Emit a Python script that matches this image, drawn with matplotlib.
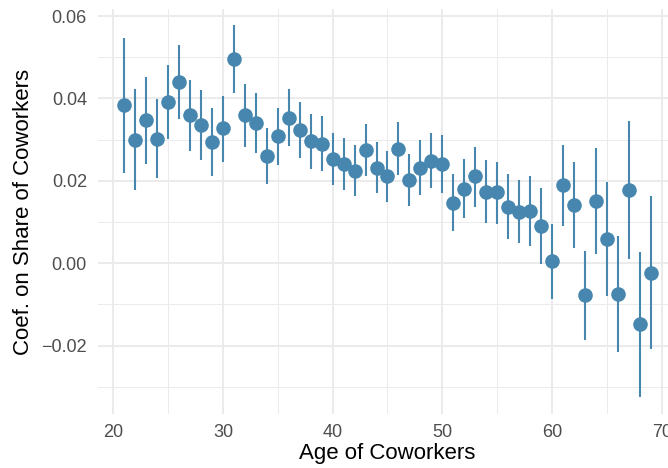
import numpy as np
import matplotlib
matplotlib.use("Agg")
import matplotlib.pyplot as plt
from matplotlib.ticker import MultipleLocator

plt.rcParams['font.family'] = ['Liberation Sans', 'DejaVu Sans']

# Coeficientes por edad de los compañeros
age = np.arange(21, 70)
coef = [0.0383, 0.0300, 0.0347, 0.0302, 0.0391, 0.0440, 0.0359, 0.0336, 0.0293, 0.0328,
        0.0495, 0.0360, 0.0341, 0.0259, 0.0308, 0.0353, 0.0324, 0.0296, 0.0290, 0.0253,
        0.0241, 0.0225, 0.0274, 0.0231, 0.0211, 0.0278, 0.0202, 0.0231, 0.0249, 0.0241,
        0.0147, 0.0180, 0.0211, 0.0174, 0.0172, 0.0137, 0.0125, 0.0127, 0.0091, 0.0005,
        0.0189, 0.0142, -0.0076, 0.0151, 0.0059, -0.0074, 0.0178, -0.0147, -0.0023]
upper = [0.0546, 0.0424, 0.0453, 0.0398, 0.0480, 0.0529, 0.0444, 0.0420, 0.0377, 0.0407,
         0.0578, 0.0436, 0.0412, 0.0329, 0.0376, 0.0424, 0.0391, 0.0363, 0.0357, 0.0316,
         0.0304, 0.0288, 0.0338, 0.0293, 0.0273, 0.0342, 0.0266, 0.0298, 0.0316, 0.0310,
         0.0217, 0.0253, 0.0282, 0.0250, 0.0246, 0.0216, 0.0201, 0.0211, 0.0182, 0.0095,
         0.0286, 0.0245, 0.0030, 0.0280, 0.0196, 0.0066, 0.0345, 0.0028, 0.0162]
lower = [0.0219, 0.0178, 0.0241, 0.0207, 0.0302, 0.0350, 0.0272, 0.0251, 0.0211, 0.0246,
         0.0412, 0.0282, 0.0268, 0.0193, 0.0238, 0.0284, 0.0255, 0.0228, 0.0224, 0.0190,
         0.0178, 0.0163, 0.0212, 0.0170, 0.0148, 0.0215, 0.0139, 0.0166, 0.0182, 0.0171,
         0.0079, 0.0109, 0.0136, 0.0098, 0.0094, 0.0059, 0.0048, 0.0041, -0.0001, -0.0086,
         0.0090, 0.0038, -0.0186, 0.0022, -0.0079, -0.0216, 0.0010, -0.0324, -0.0208]

color = '#4787AF'

fig = plt.figure(figsize=(6.68, 4.68), dpi=100)
ax = fig.add_axes([98 / 668, 1 - 414 / 468, (677 - 98) / 668, (414 - 9) / 468])

ax.vlines(age, lower, upper, color=color, linewidth=1.5)
ax.plot(age, coef, 'o', color=color, markersize=10.5, markeredgewidth=0)

ax.set_xlim(18.6, 71.4)
ax.set_ylim(-0.0366, 0.0617)
ax.xaxis.set_major_locator(MultipleLocator(10))
ax.xaxis.set_minor_locator(MultipleLocator(5))
ax.yaxis.set_major_locator(MultipleLocator(0.02))
ax.yaxis.set_minor_locator(MultipleLocator(0.01))
ax.yaxis.set_major_formatter(plt.FuncFormatter(lambda v, p: f'{v:.2f}'.replace('-', '\u2212')))

ax.grid(True, which='major', color='#EBEBEB', linewidth=1.4)
ax.grid(True, which='minor', color='#EBEBEB', linewidth=0.7)
ax.set_axisbelow(True)
for s in ax.spines.values():
    s.set_visible(False)
ax.tick_params(which='both', length=0, labelsize=13, labelcolor='#4D4D4D')
ax.tick_params(axis='y', pad=8)
ax.tick_params(axis='x', pad=7)

ax.set_xlabel('Age of Coworkers', fontsize=16, labelpad=2)
ax.set_ylabel('Coef. on Share of Coworkers', fontsize=16, labelpad=5)

fig.savefig('out.png', dpi=100)
